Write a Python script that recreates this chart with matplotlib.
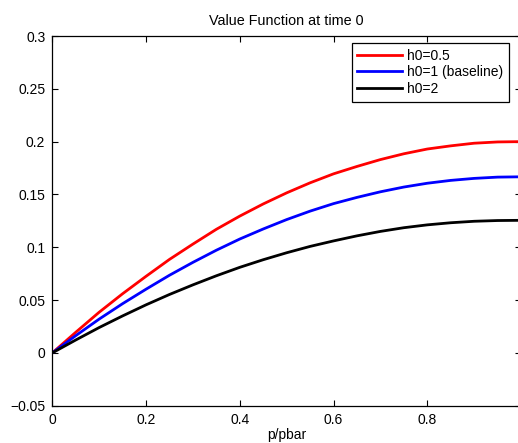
import numpy as np
import matplotlib
matplotlib.use('Agg')
import matplotlib.pyplot as plt

plt.rcParams['font.family'] = ['Liberation Sans', 'DejaVu Sans']
plt.rcParams['font.size'] = 10

# value function at t=0 against p/pbar, one curve per h0
p_ratio = [0.00, 0.05, 0.10, 0.15, 0.20, 0.25, 0.30, 0.35, 0.40, 0.45, 0.50,
           0.55, 0.60, 0.65, 0.70, 0.75, 0.80, 0.85, 0.90, 0.95, 1.00]
v_h05 = [0.0, 0.0195, 0.0385, 0.0560, 0.0725, 0.0885, 0.1030, 0.1170, 0.1295,
         0.1410, 0.1515, 0.1610, 0.1695, 0.1765, 0.1830, 0.1885, 0.1930,
         0.1960, 0.1985, 0.1997, 0.2000]
v_h1 = [0.0, 0.0163, 0.0320, 0.0466, 0.0603, 0.0735, 0.0857, 0.0972, 0.1078,
        0.1173, 0.1262, 0.1342, 0.1413, 0.1472, 0.1525, 0.1570, 0.1606,
        0.1633, 0.1652, 0.1664, 0.1667]
v_h2 = [0.0, 0.0122, 0.0240, 0.0350, 0.0455, 0.0553, 0.0644, 0.0730, 0.0810,
        0.0882, 0.0948, 0.1008, 0.1060, 0.1108, 0.1150, 0.1185, 0.1212,
        0.1232, 0.1246, 0.1253, 0.1255]
labels = ['h0=0.5', 'h0=1 (baseline)', 'h0=2']
colors = ['r', 'b', 'k']

W, H = 518, 443
fig = plt.figure(figsize=(W / 100, H / 100), dpi=100)
# axes box runs slightly past the right edge of the figure
ax = fig.add_axes([52.3 / W, 1 - 405.7 / H, (521 - 52.3) / W, (405.7 - 36) / H])

for y, lab, c in zip([v_h05, v_h1, v_h2], labels, colors):
    ax.plot(p_ratio, y, color=c, linewidth=2, label=lab)

ax.set_xlim(0, 1)
ax.set_ylim(-0.05, 0.3)
ax.set_xticks([0, 0.2, 0.4, 0.6, 0.8], ['0', '0.2', '0.4', '0.6', '0.8'])
ax.set_yticks(np.arange(-0.05, 0.31, 0.05),
              ['\u22120.05', '0', '0.05', '0.1', '0.15', '0.2', '0.25', '0.3'])
ax.tick_params(direction='in', length=4, width=0.8, top=True, right=True,
               pad=5, labelsize=10, colors='k')
for s in ax.spines.values():
    s.set_linewidth(0.9)

ax.set_title('Value Function at time 0', fontsize=10.4, pad=8)
ax.set_xlabel('p/pbar', fontsize=10, labelpad=1)

leg = ax.legend(loc='upper right', bbox_to_anchor=(509 / W, 1 - 43 / H),
                bbox_transform=fig.transFigure, borderaxespad=0,
                fancybox=False, edgecolor='k', framealpha=1,
                handlelength=3.2, handletextpad=0.4, labelspacing=0.2,
                borderpad=0.4, fontsize=10)
leg.get_frame().set_linewidth(0.9)

fig.savefig('out.png', dpi=100)
